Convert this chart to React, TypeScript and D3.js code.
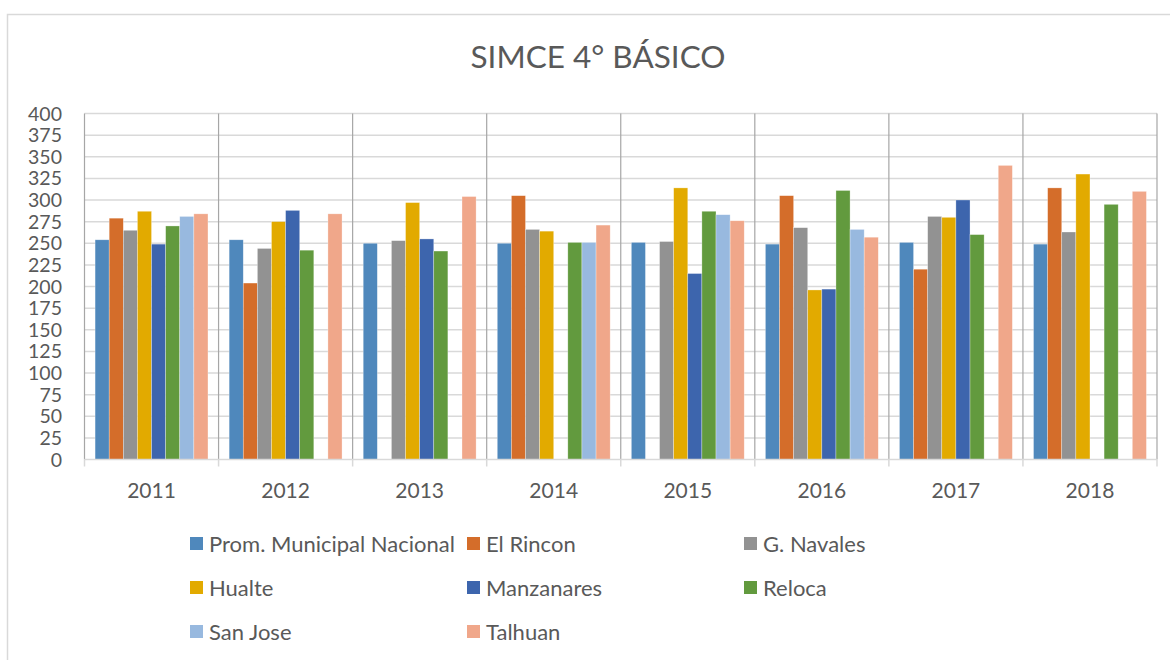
import React from "react";
import * as d3 from "d3";

const years = ["2011", "2012", "2013", "2014", "2015", "2016", "2017", "2018"];
const seriesNames = [
  "Prom. Municipal Nacional",
  "El Rincon",
  "G. Navales",
  "Hualte",
  "Manzanares",
  "Reloca",
  "San Jose",
  "Talhuan",
];
const seriesColors = ["#4F88BC", "#D46D2A", "#929292", "#E2AA00", "#3D65AD", "#629A3E", "#98B9DF", "#F0A78A"];

const promMunicipal = [254, 254, 250, 250, 251, 249, 251, 249];
const elRincon = [279, 204, null, 305, null, 305, 220, 314];
const gNavales = [265, 244, 253, 266, 252, 268, 281, 263];
const hualte = [287, 275, 297, 264, 314, 196, 280, 330];
const manzanares = [249, 288, 255, null, 215, 197, 300, null];
const reloca = [270, 242, 241, 251, 287, 311, 260, 295];
const sanJose = [281, null, null, 251, 283, 266, null, null];
const talhuan = [284, 284, 304, 271, 276, 257, 340, 310];

const seriesValues: (number | null)[][] = [promMunicipal, elRincon, gNavales, hualte, manzanares, reloca, sanJose, talhuan];
const yTicks = d3.range(0, 401, 25);
const title = "SIMCE 4° BÁSICO";

const FONT = "Lato, 'Open Sans', sans-serif";
const TEXT = "#595959";

export default function App() {
  const left = 84.5, right = 1157, top = 113.5, bottom = 459.5;
  const x0 = d3.scaleBand().domain(years).range([left, right]).padding(0);
  const x1 = d3.scaleBand().domain(seriesNames).range([0, x0.bandwidth()]).paddingInner(0).paddingOuter(0.75);
  const y = d3.scaleLinear().domain([0, 400]).range([bottom, top]);

  const legendCols = [190, 467, 744];
  const legendRows = [544, 588, 632];

  return (
    <svg width={1170} height={660} style={{ position: "absolute", left: 0, top: 0, background: "#fff" }}>
      <rect x={7.5} y={14.5} width={1300} height={800} fill="#fff" stroke="#d9d9d9" strokeWidth={1.5} />
      <text x={598} y={68} textAnchor="middle" fontFamily={FONT} fontSize={31.5} fill={TEXT}>{title}</text>

      {yTicks.map((t) => (
        <g key={t}>
          {t > 0 && <line x1={left} x2={right} y1={y(t)} y2={y(t)} stroke="#d9d9d9" strokeWidth={1.5} />}
          <text x={62} y={y(t) + 7} textAnchor="end" fontFamily={FONT} fontSize={19.5} fill={TEXT}>{t}</text>
        </g>
      ))}

      {seriesNames.map((s, si) =>
        years.map((yr, yi) => {
          const v = seriesValues[si][yi];
          if (v == null) return null;
          return (
            <rect key={s + yr} x={(x0(yr) as number) + (x1(s) as number)} y={y(v)} width={x1.bandwidth()} height={y(0) - y(v)}
              fill={seriesColors[si]} stroke="#fff" strokeOpacity={0.5} strokeWidth={0.6} />
          );
        })
      )}

      {years.concat(["end"]).map((yr, i) => {
        const xx = i < years.length ? (x0(yr) as number) : right;
        return (
          <g key={"d" + yr}>
            <line x1={xx} x2={xx} y1={top} y2={bottom} stroke="#a6a6a6" strokeWidth={1.2} />
            <line x1={xx} x2={xx} y1={bottom} y2={bottom + 7} stroke="#d9d9d9" strokeWidth={1.5} />
          </g>
        );
      })}
      <line x1={left} x2={right} y1={bottom} y2={bottom} stroke="#d9d9d9" strokeWidth={1.5} />

      {years.map((yr) => (
        <text key={"l" + yr} x={(x0(yr) as number) + x0.bandwidth() / 2} y={498} textAnchor="middle" fontFamily={FONT} fontSize={21} fill={TEXT}>{yr}</text>
      ))}

      {seriesNames.map((s, i) => {
        const lx = legendCols[i % 3];
        const ly = legendRows[Math.floor(i / 3)];
        return (
          <g key={"lg" + s}>
            <rect x={lx} y={ly - 7} width={13} height={13} fill={seriesColors[i]} />
            <text x={lx + 19} y={ly + 7.5} fontFamily={FONT} fontSize={22} fill={TEXT}>{s}</text>
          </g>
        );
      })}
    </svg>
  );
}
